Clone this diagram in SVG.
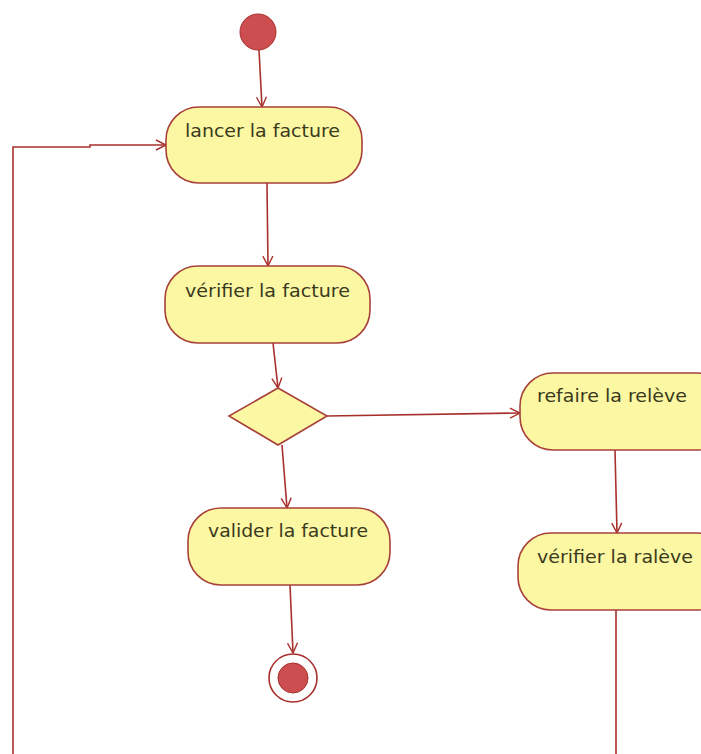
<svg xmlns="http://www.w3.org/2000/svg" width="701" height="754" viewBox="0 0 701 754">
  <style>
    .act { fill: #fbf7a2; stroke: #a8403a; stroke-width: 1.6; }
    .lbl { font-family: "DejaVu Sans", "Liberation Sans", sans-serif; font-size: 18.5px; fill: #3a3a20; }
    .edge { fill: none; stroke: #a8302c; stroke-width: 1.6; }
    .dot { fill: #cc4e50; stroke: #a8302c; stroke-width: 1; }
  </style>
  <defs>
    <marker id="open" viewBox="0 0 12 12" refX="11" refY="6" markerWidth="12" markerHeight="12" markerUnits="userSpaceOnUse" orient="auto">
      <path d="M1,1 L11,6 L1,11" fill="none" stroke="#a8302c" stroke-width="1.4"/>
    </marker>
  </defs>
  <rect width="701" height="754" fill="#ffffff"/>

  <g id="connectors">
    <path class="edge" d="M259,50 L262,107" marker-end="url(#open)"/>
    <path class="edge" d="M267,183 L268,266" marker-end="url(#open)"/>
    <path class="edge" d="M273,343 L278,388" marker-end="url(#open)"/>
    <path class="edge" d="M327,416 L520,413" marker-end="url(#open)"/>
    <path class="edge" d="M282,445 L287,508" marker-end="url(#open)"/>
    <path class="edge" d="M290,585 L293,653" marker-end="url(#open)"/>
    <path class="edge" d="M615,450 L617,533" marker-end="url(#open)"/>
    <path class="edge" d="M616,610 L616,754"/>
    <path class="edge" d="M13,754 L13,147 L90,147 L90,145 L166,145" marker-end="url(#open)"/>
  </g>

  <g id="start">
    <circle class="dot" cx="258" cy="32" r="18"/>
  </g>

  <g id="lancer">
    <rect class="act" x="166" y="107" width="196" height="76" rx="33" ry="33"/>
    <text class="lbl" x="185" y="137" textLength="155" lengthAdjust="spacingAndGlyphs">lancer la facture</text>
  </g>

  <g id="verifier-facture">
    <rect class="act" x="165" y="266" width="205" height="77" rx="33" ry="33"/>
    <text class="lbl" x="185" y="297" textLength="165" lengthAdjust="spacingAndGlyphs">vérifier la facture</text>
  </g>

  <g id="decision">
    <polygon class="act" points="278,388 327,416 278,445 229,416"/>
  </g>

  <g id="refaire">
    <rect class="act" x="520" y="373" width="210" height="77" rx="33" ry="33"/>
    <text class="lbl" x="537" y="402" textLength="150" lengthAdjust="spacingAndGlyphs">refaire la relève</text>
  </g>

  <g id="verifier-raleve">
    <rect class="act" x="518" y="533" width="212" height="77" rx="33" ry="33"/>
    <text class="lbl" x="537" y="563" textLength="156" lengthAdjust="spacingAndGlyphs">vérifier la ralève</text>
  </g>

  <g id="valider">
    <rect class="act" x="188" y="508" width="202" height="77" rx="33" ry="33"/>
    <text class="lbl" x="208" y="537" textLength="160" lengthAdjust="spacingAndGlyphs">valider la facture</text>
  </g>

  <g id="end">
    <circle cx="293" cy="678" r="24" fill="#ffffff" stroke="#a8302c" stroke-width="1.6"/>
    <circle class="dot" cx="293" cy="678" r="15"/>
  </g>
</svg>
